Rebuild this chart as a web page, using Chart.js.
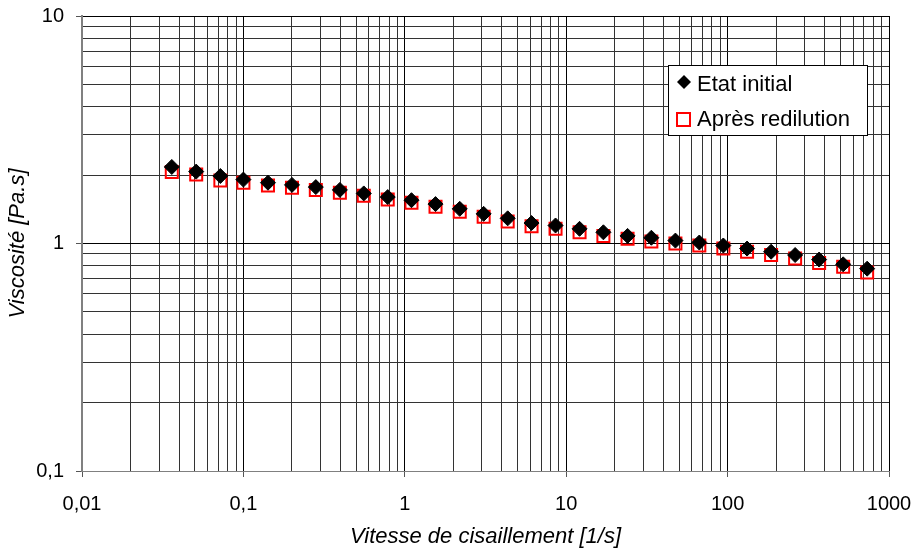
<!DOCTYPE html>
<html>
<head>
<meta charset="utf-8">
<script src="https://cdn.jsdelivr.net/npm/chart.js@4.4.1/dist/chart.umd.min.js"></script>
<style>
  body { margin: 0; background: #fff; }
  #wrap { position: relative; width: 916px; height: 553px; }
</style>
</head>
<body>
<div id="wrap"><canvas id="viscoChart" width="916" height="553"></canvas></div>
<script>
// shear rate [1/s]
const shearRate = [0.036, 0.051, 0.072, 0.1, 0.142, 0.2, 0.281, 0.396, 0.557, 0.784,
  1.1, 1.55, 2.19, 3.08, 4.34, 6.1, 8.59, 12.1, 17, 24,
  33.7, 47.5, 66.8, 94.1, 132, 186, 262, 369, 520, 732];

// viscosity [Pa.s]
const etatInitial = [2.17, 2.07, 1.98, 1.91, 1.85, 1.81, 1.77, 1.72, 1.66, 1.6,
  1.55, 1.49, 1.42, 1.35, 1.29, 1.23, 1.2, 1.16, 1.12, 1.08,
  1.06, 1.03, 1.01, 0.98, 0.95, 0.92, 0.89, 0.85, 0.81, 0.775];
const apresRedilution = [2.06, 2.01, 1.89, 1.85, 1.8, 1.76, 1.72, 1.67, 1.62, 1.56,
  1.51, 1.45, 1.38, 1.31, 1.25, 1.19, 1.16, 1.12, 1.08, 1.05,
  1.02, 1.0, 0.98, 0.95, 0.92, 0.89, 0.86, 0.82, 0.79, 0.745];

const xDecades = [0.01, 0.1, 1, 10, 100, 1000];
const xTickLabels = ["0,01", "0,1", "1", "10", "100", "1000"];
const yDecades = [0.1, 1, 10];
const yTickLabels = ["0,1", "1", "10"];

const toPoints = (ys) => shearRate.map((x, i) => ({ x: x, y: ys[i] }));

// gridlines at 1..9 of every decade
function logTicks(decades) {
  const out = [];
  for (let i = 0; i < decades.length - 1; i++) {
    for (let m = 1; m <= 9; m++) {
      out.push({ value: m === 1 ? decades[i] : +(m * decades[i]).toPrecision(6) });
    }
  }
  out.push({ value: decades[decades.length - 1] });
  return out;
}

function axisOpts(decades, labels, isX) {
  return {
    type: "logarithmic",
    min: decades[0],
    max: decades[decades.length - 1],
    afterBuildTicks: (scale) => { scale.ticks = logTicks(decades); },
    afterFit: (scale) => {
      if (isX) scale.height = 82; else scale.width = 82;
      // let layout.padding alone decide the plot box
      scale.paddingTop = 0;
      scale.paddingBottom = 0;
      scale.paddingLeft = 0;
      scale.paddingRight = 0;
    },
    ticks: {
      autoSkip: false,
      maxRotation: 0,
      padding: isX ? 15 : 12,
      color: "#000",
      font: { size: 20 },
      callback: (value) => {
        const k = decades.indexOf(value);
        return k >= 0 ? labels[k] : "";
      },
    },
    grid: {
      color: (c) => (c.tick && decades.includes(c.tick.value) ? "#000" : "#333"),
      lineWidth: 1,
      tickLength: 6,
      tickColor: (c) => (c.tick && decades.includes(c.tick.value) ? "#555" : "rgba(0,0,0,0)"),
    },
    border: { color: "#808080", width: isX ? 1 : 2 },
    title: {
      display: true,
      text: isX ? "Vitesse de cisaillement [1/s]" : "Viscosité [Pa.s]",
      color: "#000",
      font: { size: 22, style: "italic" },
      padding: { top: 5, bottom: 3 },
    },
  };
}

// legend box drawn inside the plot area
const boxLegend = {
  id: "boxLegend",
  afterDraw(chart) {
    const ctx = chart.ctx;
    ctx.save();
    ctx.fillStyle = "#fff";
    ctx.strokeStyle = "#000";
    ctx.lineWidth = 1;
    ctx.fillRect(668.5, 65.5, 199, 70);
    ctx.strokeRect(668.5, 65.5, 199, 70);

    ctx.fillStyle = "#000";
    ctx.beginPath();
    ctx.moveTo(684, 75);
    ctx.lineTo(691, 82);
    ctx.lineTo(684, 89);
    ctx.lineTo(677, 82);
    ctx.closePath();
    ctx.fill();

    ctx.strokeStyle = "#ff0000";
    ctx.lineWidth = 2;
    ctx.strokeRect(677, 113, 13, 13);

    ctx.fillStyle = "#000";
    ctx.font = "22px 'Liberation Sans', Arial, sans-serif";
    ctx.textBaseline = "alphabetic";
    ctx.fillText(chart.data.datasets[0].label, 697, 91);
    ctx.fillText(chart.data.datasets[1].label, 697, 126);
    ctx.restore();
  },
};

Chart.defaults.font.family = "'Liberation Sans', Arial, sans-serif";

new Chart(document.getElementById("viscoChart"), {
  type: "scatter",
  data: {
    datasets: [
      {
        label: "Etat initial",
        data: toPoints(etatInitial),
        pointStyle: "rectRot",
        pointRadius: 7.5,
        pointHoverRadius: 7.5,
        backgroundColor: "#000",
        borderColor: "#000",
        borderWidth: 1,
      },
      {
        label: "Après redilution",
        data: toPoints(apresRedilution),
        pointStyle: "rect",
        pointRadius: 8.5,
        pointHoverRadius: 8.5,
        backgroundColor: "rgba(0,0,0,0)",
        borderColor: "#ff0000",
        borderWidth: 2,
      },
    ],
  },
  options: {
    responsive: false,
    animation: false,
    layout: { padding: { top: 16, right: 27, bottom: 0, left: 0 } },
    plugins: {
      legend: { display: false },
      tooltip: { enabled: false },
    },
    scales: {
      x: axisOpts(xDecades, xTickLabels, true),
      y: axisOpts(yDecades, yTickLabels, false),
    },
  },
  plugins: [boxLegend],
});
</script>
</body>
</html>
